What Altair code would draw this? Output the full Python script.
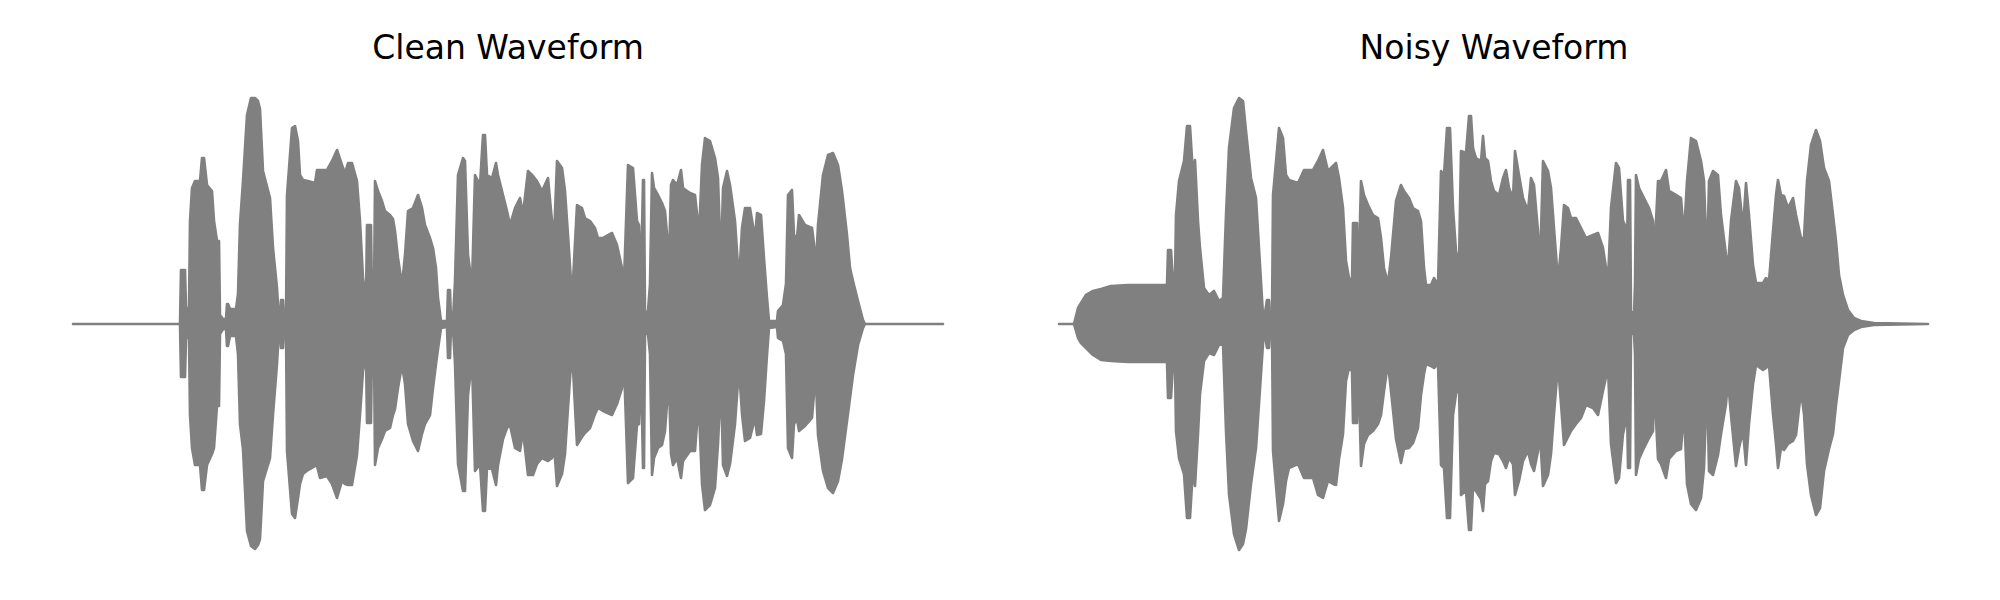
import altair as alt
import pandas as pd

# Waveform envelopes (time in frames, amplitude in arbitrary units)
clean_t = [0, 107, 108, 112, 113, 116, 117, 119, 122, 127, 129, 131, 134, 139, 141, 144, 146, 147, 150, 153,
           154, 155, 157, 163, 165, 167, 170, 174, 178, 182, 185, 187, 190, 197, 200, 204, 206, 207, 208, 210,
           211, 213, 214, 219, 222, 225, 227, 230, 235, 242, 244, 247, 254, 259, 264, 269, 272, 275, 279, 284,
           287, 290, 293, 294, 298, 299, 301, 302, 305, 309, 312, 317, 320, 322, 325, 329, 332, 335, 340, 345,
           349, 352, 357, 360, 363, 365, 368, 374, 375, 377, 378, 380, 382, 385, 390, 392, 395, 399, 402, 407,
           410, 412, 414, 419, 423, 425, 430, 434, 437, 442, 447, 450, 455, 460, 464, 469, 475, 479, 481, 484,
           489, 492, 495, 498, 500, 504, 509, 512, 517, 522, 525, 530, 539, 544, 549, 551, 555, 560, 564, 566,
           568, 570, 571, 572, 575, 577, 579, 581, 585, 589, 592, 594, 596, 598, 600, 604, 608, 610, 617, 622,
           624, 626, 629, 632, 637, 642, 645, 648, 650, 654, 657, 662, 666, 669, 672, 677, 682, 684, 688, 691,
           694, 696, 704, 705, 710, 713, 715, 719, 721, 724, 726, 732, 739, 741, 743, 745, 750, 755, 760, 765,
           769, 774, 777, 780, 785, 790, 792, 870]
clean_hi = [0, 0, 54, 54, 16, 16, 103, 136, 143, 143, 166, 166, 139, 133, 103, 83, 83, 9, 5, 5,
            20, 20, 15, 15, 30, 100, 143, 209, 226, 226, 223, 215, 153, 126, 76, 36, 3, 5, 24, 24,
            5, 5, 129, 196, 198, 183, 149, 144, 143, 141, 154, 154, 154, 163, 174, 159, 151, 161, 161, 143,
            103, 46, 26, 99, 99, 26, 26, 143, 133, 123, 113, 109, 105, 93, 66, 39, 69, 113, 116, 129,
            116, 99, 86, 76, 56, 26, 3, 3, 34, 34, 3, 5, 43, 149, 166, 163, 69, 39, 149, 139,
            189, 189, 149, 146, 161, 149, 129, 113, 99, 116, 126, 110, 153, 148, 143, 133, 146, 103, 86, 163,
            156, 133, 89, 43, 43, 119, 116, 106, 103, 96, 86, 86, 91, 79, 56, 43, 159, 156, 103, 99,
            43, 144, 144, 10, 13, 40, 151, 136, 129, 121, 113, 90, 63, 139, 144, 139, 154, 136, 131, 129,
            110, 89, 159, 186, 183, 166, 146, 59, 136, 153, 139, 103, 43, 96, 116, 116, 86, 111, 109, 66,
            26, 3, 3, 13, 19, 40, 129, 134, 89, 86, 109, 99, 96, 80, 59, 99, 149, 169, 171, 159,
            133, 89, 56, 43, 23, 4, 0, 0]
clean_lo = [0, 0, -53, -53, -14, -14, -91, -124, -141, -141, -166, -166, -141, -130, -124, -82, -82, -10, -5, -5,
            -22, -22, -12, -12, -30, -100, -125, -207, -222, -225, -221, -215, -157, -134, -91, -40, -5, -5, -24, -24,
            -5, -5, -127, -190, -194, -174, -160, -150, -146, -142, -142, -154, -152, -160, -174, -157, -160, -161, -161, -131,
            -91, -47, -31, -99, -99, -24, -24, -141, -124, -115, -107, -104, -91, -85, -64, -41, -60, -100, -117, -127,
            -110, -100, -91, -64, -40, -25, -4, -3, -34, -34, -3, -5, -40, -140, -167, -167, -71, -37, -147, -140,
            -187, -187, -144, -145, -161, -141, -115, -104, -101, -124, -127, -107, -151, -151, -140, -134, -137, -134, -121, -162,
            -150, -130, -84, -40, -45, -121, -113, -109, -104, -90, -84, -87, -91, -80, -64, -40, -159, -154, -101, -100,
            -40, -144, -144, -10, -10, -30, -151, -134, -124, -121, -107, -80, -61, -130, -141, -134, -154, -137, -127, -127,
            -100, -87, -160, -186, -181, -164, -120, -57, -141, -152, -140, -100, -44, -90, -117, -114, -94, -111, -110, -77,
            -31, -4, -3, -14, -17, -30, -124, -134, -100, -95, -107, -102, -94, -70, -57, -111, -147, -164, -169, -157,
            -135, -97, -74, -51, -21, -4, 0, 0]

noisy_t = [0, 15, 19, 22, 27, 34, 42, 52, 69, 89, 108, 109, 112, 114, 116, 117, 120, 125, 128, 131,
           134, 136, 139, 141, 145, 150, 155, 160, 164, 167, 170, 175, 180, 184, 187, 192, 197, 200, 204, 205,
           208, 210, 211, 213, 214, 220, 224, 227, 230, 239, 245, 254, 259, 264, 269, 274, 277, 280, 284, 287,
           290, 293, 294, 298, 299, 302, 305, 309, 314, 319, 322, 325, 329, 332, 337, 342, 345, 350, 354, 359,
           362, 365, 367, 372, 375, 379, 382, 385, 388, 391, 394, 397, 400, 402, 407, 410, 412, 414, 417, 422,
           424, 426, 429, 432, 435, 440, 444, 447, 450, 454, 456, 460, 464, 469, 472, 475, 479, 481, 484, 489,
           492, 495, 499, 502, 505, 509, 512, 517, 522, 527, 534, 539, 544, 549, 552, 557, 560, 564, 566, 568,
           569, 571, 572, 575, 576, 577, 580, 585, 590, 594, 595, 599, 602, 607, 610, 617, 622, 625, 628, 632,
           637, 642, 645, 648, 650, 654, 659, 662, 667, 669, 672, 677, 680, 684, 687, 690, 694, 697, 704, 707,
           710, 714, 717, 719, 722, 725, 729, 734, 737, 742, 745, 748, 752, 757, 761, 765, 770, 774, 777, 780,
           784, 789, 795, 802, 815, 869]
noisy_hi = [0, 0, 16, 21, 29, 33, 35, 38, 39, 39, 39, 74, 74, 43, 43, 109, 143, 163, 198, 198,
            149, 164, 103, 76, 36, 29, 33, 23, 26, 109, 176, 216, 226, 223, 193, 146, 126, 76, 9, 5,
            24, 24, 5, 5, 129, 196, 186, 149, 144, 141, 154, 154, 163, 174, 153, 158, 161, 146, 116, 63,
            46, 43, 101, 101, 26, 143, 129, 119, 109, 106, 86, 56, 41, 66, 123, 139, 133, 126, 116, 113,
            103, 56, 39, 39, 46, 39, 153, 149, 196, 196, 116, 73, 59, 173, 171, 208, 208, 176, 166, 163,
            188, 166, 163, 143, 133, 129, 146, 154, 136, 126, 173, 149, 126, 113, 146, 139, 93, 56, 163, 153,
            136, 96, 43, 76, 119, 116, 106, 106, 96, 86, 89, 91, 76, 43, 116, 161, 156, 103, 99, 69,
            144, 144, 13, 9, 40, 149, 136, 126, 116, 103, 63, 143, 143, 154, 133, 129, 126, 89, 143, 186,
            183, 163, 143, 59, 143, 153, 149, 109, 69, 56, 103, 143, 136, 96, 141, 109, 59, 41, 41, 46,
            43, 93, 129, 144, 129, 128, 116, 126, 109, 86, 86, 143, 179, 194, 183, 156, 143, 109, 83, 49,
            29, 14, 6, 3, 1, 0]
noisy_lo = [0, 0, -14, -19, -24, -31, -36, -37, -38, -38, -38, -74, -74, -40, -40, -107, -134, -150, -194, -194,
            -144, -162, -110, -70, -37, -29, -31, -21, -20, -107, -170, -210, -226, -220, -205, -160, -124, -80, -20, -5,
            -24, -24, -5, -5, -127, -197, -180, -157, -144, -140, -154, -154, -171, -174, -157, -160, -161, -135, -110, -57,
            -44, -47, -99, -99, -24, -142, -120, -111, -107, -100, -91, -67, -39, -67, -115, -139, -125, -124, -119, -104,
            -71, -50, -40, -42, -44, -40, -141, -144, -194, -194, -91, -70, -60, -171, -167, -206, -206, -164, -167, -175,
            -187, -160, -157, -137, -129, -130, -137, -144, -134, -140, -171, -157, -137, -127, -140, -147, -127, -110, -162, -151,
            -130, -90, -41, -80, -121, -113, -107, -100, -94, -81, -84, -91, -67, -44, -120, -159, -154, -110, -101, -80,
            -144, -144, -10, -10, -30, -151, -135, -124, -114, -107, -57, -135, -140, -154, -135, -127, -125, -87, -160, -180,
            -186, -174, -144, -57, -147, -151, -131, -110, -80, -57, -91, -142, -124, -107, -141, -100, -60, -41, -46, -44,
            -41, -90, -120, -144, -124, -126, -120, -117, -111, -67, -90, -140, -171, -191, -184, -147, -125, -110, -81, -57,
            -24, -11, -6, -3, -1, 0]

titles = ["Clean Waveform", "Noisy Waveform"]
GRAY = "#808080"


def panel(t, hi, lo, title):
    df = pd.DataFrame({"t": t, "hi": hi, "lo": lo})
    return alt.Chart(df).mark_area(
        color=GRAY, stroke=GRAY, strokeWidth=2.6, strokeJoin="round",
        fillOpacity=1, opacity=1, interpolate="linear"
    ).encode(
        x=alt.X("t:Q", scale=alt.Scale(domain=[0, 870], nice=False, zero=False), axis=None),
        y=alt.Y("hi:Q", scale=alt.Scale(domain=[-240, 240], nice=False), axis=None),
        y2="lo:Q",
    ).properties(
        width=870, height=480,
        title=alt.TitleParams(title, fontSize=33,
                              font="DejaVu Sans", fontWeight="normal", color="black",
                              anchor="middle", baseline="alphabetic", offset=-8),
    )


chart = alt.hconcat(
    panel(clean_t, clean_hi, clean_lo, titles[0]),
    panel(noisy_t, noisy_hi, noisy_lo, titles[1]),
    spacing=112,
).properties(
    padding={"left": 63, "top": 25, "right": 5, "bottom": 5},
    background="white",
).configure_view(stroke=None, strokeWidth=0)

chart.save("out.html", embed_options={"renderer": "svg", "actions": False})
